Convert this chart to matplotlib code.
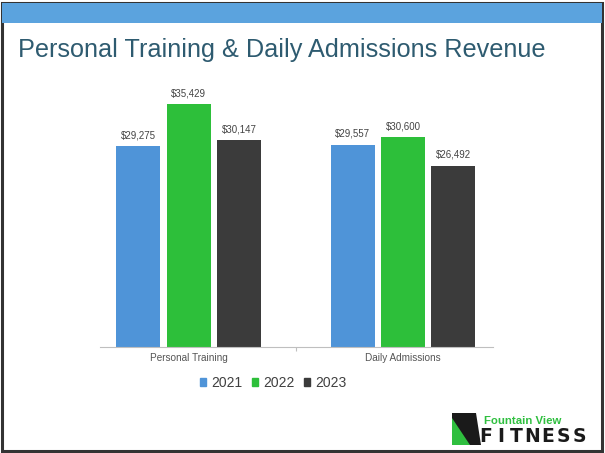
import matplotlib.pyplot as plt
import matplotlib.patches as mpatches
import numpy as np

categories = ["Personal Training", "Daily Admissions"]
years = ["2021", "2022", "2023"]
revenue_2021 = [29275, 29557]
revenue_2022 = [35429, 30600]
revenue_2023 = [30147, 26492]
colors = ["#4f94d8", "#2dbf3a", "#3b3b3b"]

plt.rcParams["font.family"] = ["Liberation Sans", "DejaVu Sans"]

fig = plt.figure(figsize=(6.05, 4.53), dpi=100)
fig.patch.set_facecolor("white")

# slide frame and top band
fig.add_artist(mpatches.Rectangle((0.004, 0.004), 0.991, 0.99, transform=fig.transFigure,
                                  fill=False, edgecolor="#333333", linewidth=2.2))
fig.add_artist(mpatches.Rectangle((0.004, 1 - 23 / 453), 0.991, 20 / 453, transform=fig.transFigure,
                                  facecolor="#5ba3de", edgecolor="none"))

fig.text(18 / 605, 1 - 50 / 453, "Personal Training & Daily Admissions Revenue",
         fontsize=18.2, color="#2e5b70", va="center", ha="left")

ax = fig.add_axes([100 / 605, 1 - 347 / 453, 393 / 605, 274 / 453])
x = np.arange(len(categories))
width = 0.205
step = 0.235
series = [revenue_2021, revenue_2022, revenue_2023]
for i, (vals, yr, c) in enumerate(zip(series, years, colors)):
    bars = ax.bar(x + (i - 1) * step, vals, width, color=c, label=yr)
    for b, v in zip(bars, vals):
        ax.text(b.get_x() + b.get_width() / 2, v + 900, f"${v:,}",
                ha="center", va="bottom", fontsize=7, color="#444444")

ax.set_xlim(-0.413, 1.42)
ax.set_ylim(0, 40000)
ax.set_yticks([])
for s in ["top", "right", "left"]:
    ax.spines[s].set_visible(False)
ax.spines["bottom"].set_color("#bfbfbf")
ax.set_xticks([0.5])
ax.set_xticklabels([""])
ax.tick_params(axis="x", length=3, color="#bfbfbf")
for xi, cat in zip(x, categories):
    ax.text(xi, -1600, cat, ha="center", va="center", fontsize=7.2, color="#555555")

handles = [mpatches.Patch(color=c, label=y) for c, y in zip(colors, years)]
fig.legend(handles=handles, loc="center", bbox_to_anchor=(273 / 605, 1 - 383 / 453), ncol=3,
           frameon=False, fontsize=10, handlelength=0.45, handleheight=0.45,
           handletextpad=0.35, columnspacing=0.7, labelcolor="#404040")

# logo
fig.add_artist(mpatches.Polygon([(452 / 605, 1 - 413 / 453), (476 / 605, 1 - 413 / 453),
                                 (481 / 605, 1 - 445 / 453), (452 / 605, 1 - 445 / 453)],
                                closed=True, transform=fig.transFigure, facecolor="#1a1a1a"))
fig.add_artist(mpatches.Polygon([(452 / 605, 1 - 418 / 453), (470 / 605, 1 - 445 / 453),
                                 (452 / 605, 1 - 445 / 453)],
                                closed=True, transform=fig.transFigure, facecolor="#2fbf3f"))
fig.text(484 / 605, 1 - 421 / 453, "Fountain View", fontsize=8.2, color="#2fbf3f",
         fontweight="bold", va="center", ha="left")
for k, ch in enumerate("FITNESS"):
    fig.text((478 + k * 15.6 + 7.5) / 605, 1 - 437 / 453, ch, fontsize=13.5, color="#1a1a1a",
             fontweight="bold", va="center", ha="center", family="DejaVu Sans")

fig.savefig("out.png", dpi=100)
